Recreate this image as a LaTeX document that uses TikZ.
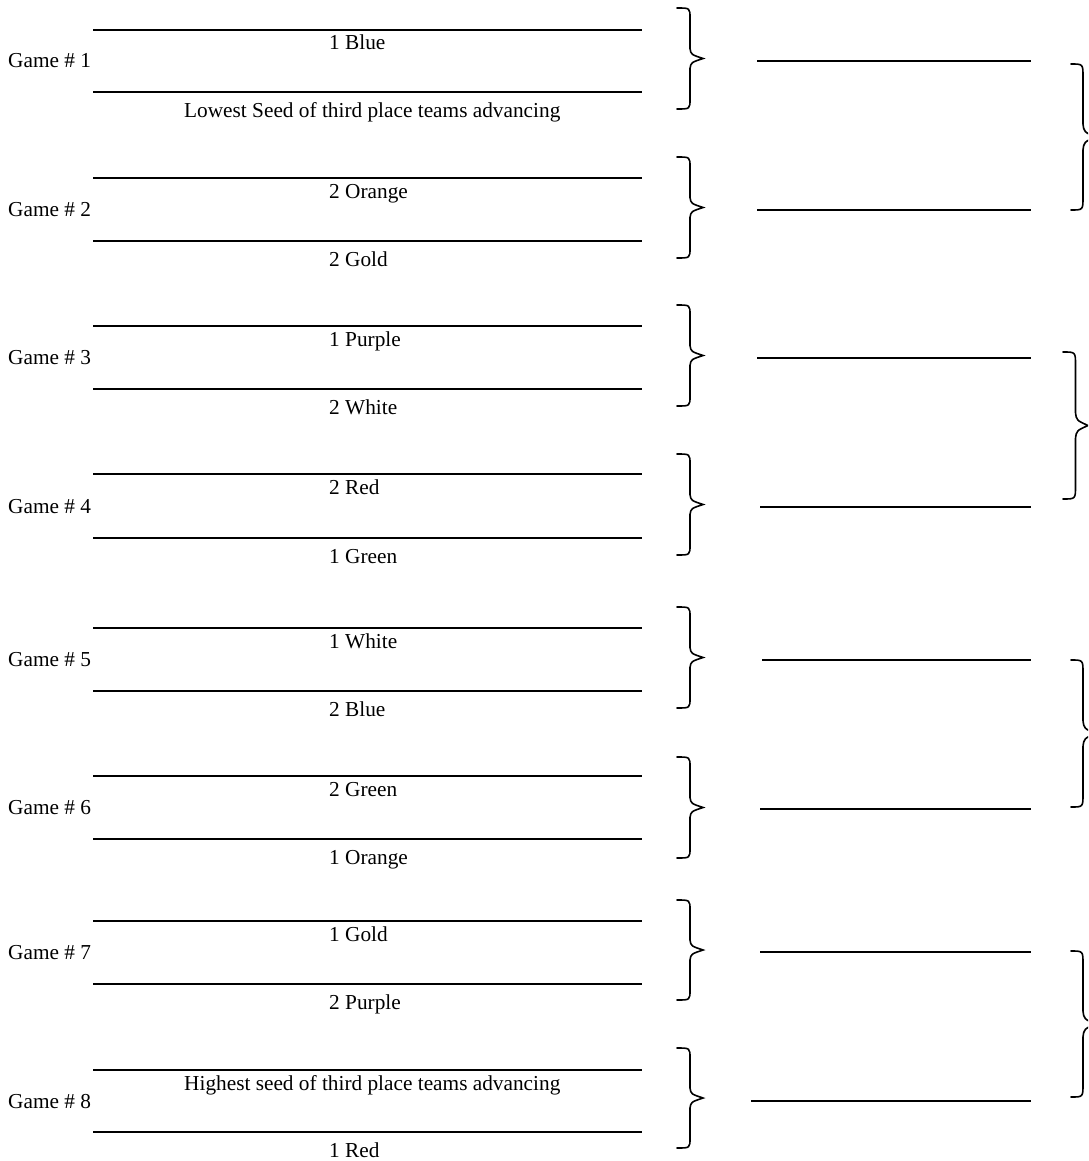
\documentclass[tikz,border=0pt]{standalone}
\usepackage{fontspec}
\setmainfont{Liberation Serif}
\newcommand{\mygame}[7]{%
  \coordinate (g#1tl) at (93,#2); \coordinate (g#1tr) at (642,#2);
  \coordinate (g#1bl) at (93,#3); \coordinate (g#1br) at (642,#3);
  \draw[slot] (g#1tl) -- (g#1tr);
  \draw[slot] (g#1bl) -- (g#1br);
  \node[lbl,anchor=base west] (g#1name) at (8,{(#2+#3)/2+7}) {Game \# #1};
  \node[lbl,anchor=base west] (g#1a) at (#6,#2+20) {#4};
  \node[lbl,anchor=base west] (g#1b) at (#7,#3+25.5) {#5};
}
% name, x, top, bottom, amplitude, hook height
\newcommand{\mybrace}[6]{%
  \coordinate (#1t) at (#2,#3); \coordinate (#1b) at (#2,#4);
  \draw[brc] (#1t) .. controls ({#2+#5/2},#3) .. ({#2+#5/2},{#3+#6})
    -- ({#2+#5/2},{(#3+#4)/2-#6}) .. controls ({#2+#5/2+1},{(#3+#4)/2-0.4*#6}) .. ({#2+#5},{(#3+#4)/2})
    .. controls ({#2+#5/2+1},{(#3+#4)/2+0.4*#6}) .. ({#2+#5/2},{(#3+#4)/2+#6})
    -- ({#2+#5/2},{#4-#6}) .. controls ({#2+#5/2},#4) .. (#1b);
}
\begin{document}
\begin{tikzpicture}[x=1pt,y=-1pt,
  slot/.style={line width=2pt},
  lbl/.style={font=\fontsize{21.3}{25}\selectfont, inner sep=0pt},
  brc/.style={line width=1.6pt, line join=miter, line cap=round}]
\useasboundingbox (0,0) rectangle (1088,1161);
\clip (0,0) rectangle (1088,1161);
% first round
\mygame{1}{30}{92}{1 Blue}{Lowest Seed of third place teams advancing}{329}{184}
\mygame{2}{178}{241}{2 Orange}{2 Gold}{329}{329}
\mygame{3}{326}{389}{1 Purple}{2 White}{329}{329}
\mygame{4}{474}{538}{2 Red}{1 Green}{329}{329}
\mygame{5}{628}{691}{1 White}{2 Blue}{329}{329}
\mygame{6}{776}{839}{2 Green}{1 Orange}{329}{329}
\mygame{7}{921}{984}{1 Gold}{2 Purple}{329}{329}
\mygame{8}{1070}{1132}{Highest seed of third place teams advancing}{1 Red}{184}{329}
% first-round braces
\mybrace{ba1}{677}{8}{109}{26}{10}
\mybrace{ba2}{677}{157}{258}{26}{10}
\mybrace{ba3}{677}{305}{406}{26}{10}
\mybrace{ba4}{677}{454}{555}{26}{10}
\mybrace{ba5}{677}{607}{708}{26}{10}
\mybrace{ba6}{677}{757}{858}{26}{10}
\mybrace{ba7}{677}{900}{1000}{26}{10}
\mybrace{ba8}{677}{1048}{1148}{26}{10}
% second round slots
\coordinate (r1l) at (757,61);   \coordinate (r1r) at (1031,61);
\coordinate (r2l) at (757,210);  \coordinate (r2r) at (1031,210);
\coordinate (r3l) at (757,358);  \coordinate (r3r) at (1031,358);
\coordinate (r4l) at (760,507);  \coordinate (r4r) at (1031,507);
\coordinate (r5l) at (762,660);  \coordinate (r5r) at (1031,660);
\coordinate (r6l) at (760,809);  \coordinate (r6r) at (1031,809);
\coordinate (r7l) at (760,952);  \coordinate (r7r) at (1031,952);
\coordinate (r8l) at (751,1101); \coordinate (r8r) at (1031,1101);
\foreach \i in {1,...,8} {\draw[slot] (r\i l) -- (r\i r);}
% second-round braces
\mybrace{bb1}{1071}{64}{210}{24}{13}
\mybrace{bb2}{1063}{352}{499}{25}{13}
\mybrace{bb3}{1071}{660}{807}{24}{13}
\mybrace{bb4}{1071}{951}{1097}{24}{13}
\end{tikzpicture}
\end{document}
